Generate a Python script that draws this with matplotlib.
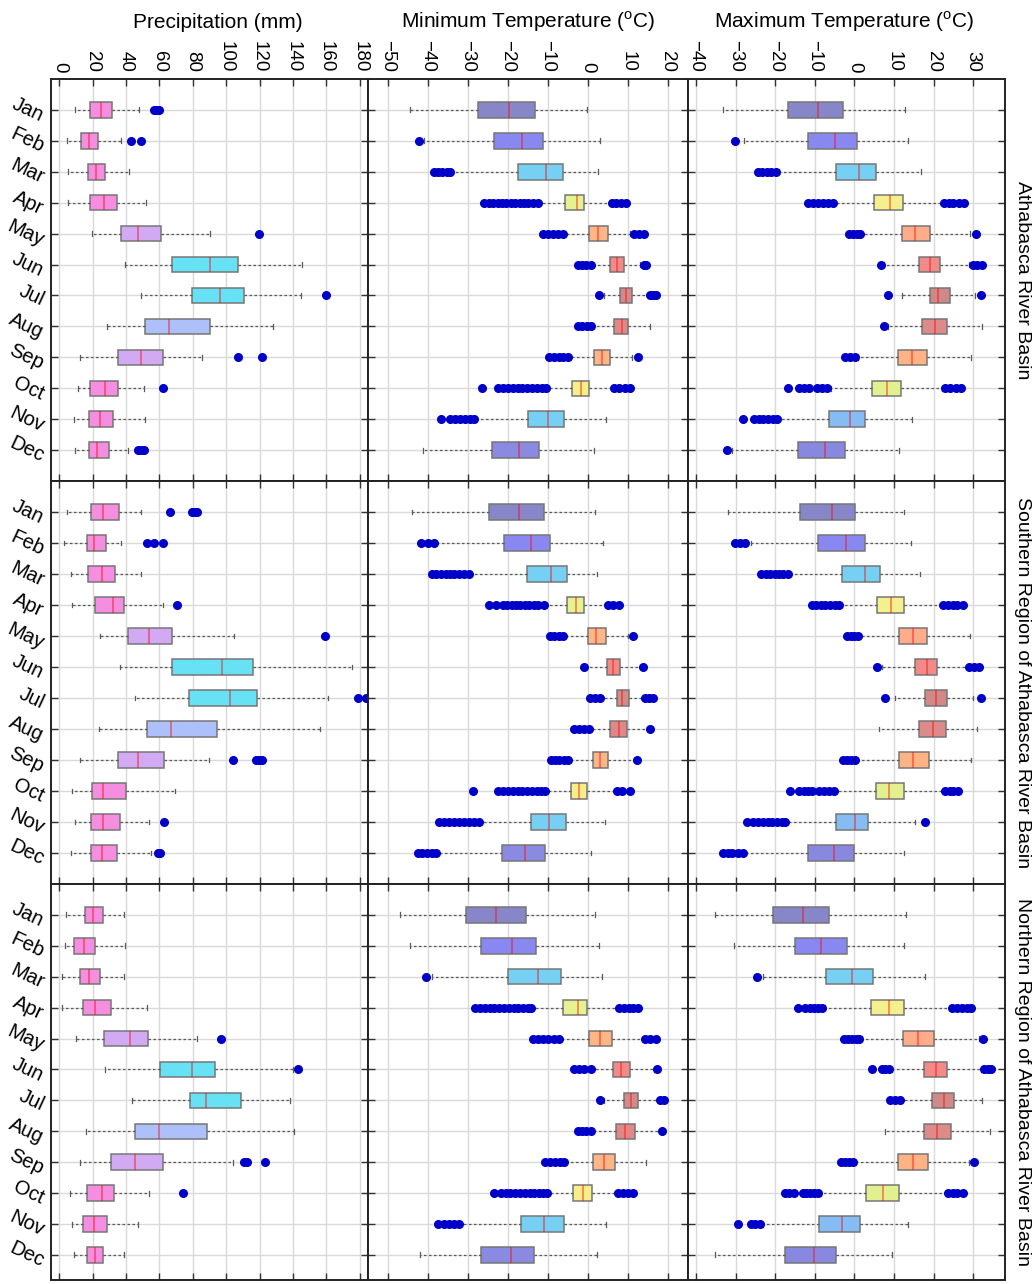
import matplotlib
matplotlib.use('Agg')
import matplotlib.pyplot as plt

plt.rcParams['font.family'] = ['Liberation Sans', 'DejaVu Sans']
plt.rcParams['mathtext.fontset'] = 'custom'
plt.rcParams['mathtext.rm'] = 'Liberation Sans'

months = ['Jan', 'Feb', 'Mar', 'Apr', 'May', 'Jun', 'Jul', 'Aug', 'Sep', 'Oct', 'Nov', 'Dec']
regions = ['Athabasca River Basin',
           'Southern Region of Athabasca River Basin',
           'Northern Region of Athabasca River Basin']
titles = ['Precipitation (mm)',
          r'Minimum Temperature ($^{\rm o}$C)',
          r'Maximum Temperature ($^{\rm o}$C)']

# each row: whisker low, q1, median, q3, whisker high
arb_prcp = [(9.4, 18.5, 24.9, 31.4, 47.8), (4.6, 12.9, 17.9, 23.3, 37.2), (5.4, 17.3, 21.9, 27.5, 41.8),
            (5.0, 18.5, 26.5, 34.4, 51.7), (19.3, 37.2, 47.2, 61.1, 90.5), (39.3, 67.5, 90.4, 106.9, 145.5),
            (48.8, 79.4, 96.3, 110.9, 145.0), (28.3, 51.1, 65.7, 90.4, 127.8), (12.6, 35.0, 48.8, 62.2, 85.3),
            (11.0, 18.5, 27.1, 35.4, 50.7), (8.6, 17.7, 24.4, 32.2, 51.1), (9.1, 17.7, 22.7, 29.7, 41.0)]
arb_prcp_out = [[56.5, 58.0, 59.5], [42.8, 48.8], [], [], [119.4], [], [159.7], [], [107.0, 121.5],
                [62.0], [], [47.0, 49.0, 51.0]]

arb_tmin = [(-44.4, -27.4, -19.75, -13.2, -0.3), (-40.9, -23.4, -16.5, -11.3, 3.0), (-34.0, -17.6, -10.5, -6.2, 2.4),
            (-12.3, -5.7, -2.75, -0.9, 5.5), (-6.0, 0.3, 2.4, 5.1, 10.5), (1.0, 5.6, 7.25, 8.9, 13.0),
            (4.0, 8.1, 9.4, 11.0, 15.0), (1.0, 6.4, 8.4, 10.0, 15.5), (-5.0, 1.5, 3.4, 5.6, 11.0),
            (-10.0, -4.1, -1.8, 0.3, 6.0), (-28.0, -15.0, -10.0, -5.9, 4.4), (-41.3, -24.0, -17.2, -12.2, 1.5)]
arb_tmin_out = [[], [-42.2], [-38.6, -37.5, -36.4, -35.3, -34.4],
                [-25.9, -24.8, -23.7, -22.6, -21.5, -20.4, -19.3, -18.2, -17.1, -16.0, -14.9, -13.8, -12.6,
                 5.9, 7.0, 8.2, 9.5],
                [-11.3, -10.0, -8.8, -7.5, -6.3, 11.6, 12.8, 14.1],
                [-2.6, -1.5, -0.4, 0.65, 14.0, 14.6],
                [2.8, 15.5, 16.3, 17.1],
                [-2.5, -1.4, -0.3, 0.65],
                [-9.7, -8.5, -7.3, -6.2, -5.1, 12.5],
                [-26.4, -22.4, -21.2, -20.0, -18.8, -17.6, -16.4, -15.2, -14.0, -12.8, -11.6, -10.4,
                 6.4, 7.8, 9.2, 10.5],
                [-36.7, -34.4, -33.2, -32.0, -30.8, -29.6, -28.5],
                []]

arb_tmax = [(-33.1, -16.8, -9.1, -2.9, 12.75), (-27.8, -11.7, -5.0, 0.7, 13.4), (-19.0, -4.75, 1.25, 5.4, 16.9),
            (-5.0, 5.0, 9.0, 12.2, 22.0), (2.0, 11.9, 15.25, 19.0, 29.25), (7.5, 16.25, 19.0, 21.7, 29.0),
            (12.1, 19.0, 21.2, 24.0, 30.5), (8.5, 17.0, 20.35, 23.3, 32.2), (1.0, 11.0, 14.6, 18.4, 29.4),
            (-6.0, 4.4, 8.2, 11.8, 22.0), (-19.0, -6.5, -1.0, 2.6, 14.6), (-31.0, -14.2, -7.5, -2.4, 11.25)]
arb_tmax_out = [[], [-30.2], [-24.3, -23.2, -22.1, -21.0, -19.9],
                [-11.7, -10.5, -9.2, -8.0, -6.7, -5.4, 22.6, 23.8, 25.0, 26.3, 27.75],
                [-1.4, -0.4, 0.6, 1.5, 30.7],
                [6.7, 29.9, 31.0, 32.2],
                [8.5, 31.9],
                [7.35],
                [-2.4, -1.2, 0.25],
                [-16.7, -14.0, -12.8, -11.5, -9.5, -8.2, -6.8, 22.8, 24.2, 25.6, 27.0],
                [-28.0, -25.4, -24.2, -23.0, -21.8, -20.6, -19.5],
                [-32.25]]

sr_prcp = [(4.6, 18.7, 26.1, 35.6, 49.0), (2.8, 16.3, 20.7, 28.1, 37.0), (7.2, 17.1, 25.7, 33.6, 49.0),
           (7.8, 21.1, 32.2, 38.6, 62.3), (24.1, 41.0, 53.9, 67.5, 104.7), (36.4, 67.3, 97.7, 116.0, 175.3),
           (45.6, 77.8, 102.3, 118.2, 161.0), (23.5, 52.3, 66.9, 94.3, 156.4), (12.6, 35.4, 47.2, 62.5, 89.7),
           (7.8, 19.6, 26.3, 40.1, 69.6), (9.4, 18.9, 25.9, 36.6, 53.9), (7.1, 18.9, 25.5, 34.6, 55.0)]
sr_prcp_out = [[66.5, 79.8, 81.3, 82.8], [52.3, 56.9, 62.3], [], [70.4], [159.0], [], [178.9, 183.7], [],
               [103.8, 117.6, 119.5, 121.5], [], [62.5], [59.0, 60.2]]

sr_tmin = [(-44.1, -24.8, -17.2, -11.0, 1.7), (-38.0, -21.1, -14.25, -9.5, 3.8), (-29.5, -15.3, -9.25, -5.3, 2.2),
           (-11.0, -5.3, -3.0, -0.9, 4.5), (-6.0, -0.1, 2.0, 4.5, 10.0), (-0.5, 4.7, 6.3, 8.1, 13.0),
           (3.5, 7.2, 8.5, 10.2, 14.0), (0.5, 5.6, 7.7, 9.7, 15.0), (-5.0, 1.15, 3.1, 5.1, 11.5),
           (-10.5, -4.3, -2.15, -0.2, 6.5), (-27.0, -14.2, -9.7, -5.45, 4.3), (-38.0, -21.6, -15.8, -10.7, 0.8)]
sr_tmin_out = [[], [-41.75, -40.1, -38.4],
               [-39.0, -37.9, -36.8, -35.6, -34.5, -33.4, -32.2, -31.0, -29.7],
               [-24.7, -23.0, -21.3, -20.2, -19.1, -18.0, -16.9, -15.8, -14.7, -13.6, -12.4, -11.1,
                4.9, 6.3, 7.8],
               [-9.5, -8.4, -7.3, -6.2, 11.3],
               [-1.1, 13.8],
               [0.6, 1.8, 3.0, 14.25, 15.2, 16.2],
               [-3.4, -2.2, -1.0, 0.3, 15.6],
               [-9.25, -8.2, -7.2, -6.1, -5.1, 12.2],
               [-28.8, -22.4, -21.2, -20.0, -18.8, -17.6, -16.4, -15.2, -14.0, -12.8, -11.7, -10.7,
                7.25, 8.5, 10.5],
               [-37.2, -36.0, -34.8, -33.6, -32.3, -31.0, -29.7, -28.4, -27.2],
               [-42.5, -41.4, -40.2, -39.1, -38.0]]

sr_tmax = [(-31.8, -13.75, -5.75, 0.1, 12.6), (-26.0, -9.3, -2.1, 2.75, 14.25), (-16.5, -3.1, 2.75, 6.5, 16.6),
           (-3.5, 5.7, 9.2, 12.6, 22.0), (1.2, 11.25, 14.8, 18.4, 29.25), (6.9, 15.25, 18.2, 20.9, 28.5),
           (10.25, 17.9, 20.5, 23.4, 30.0), (6.3, 16.3, 19.8, 23.0, 30.9), (0.5, 11.3, 14.9, 18.7, 29.4),
           (-5.0, 5.5, 8.8, 12.4, 22.5), (-17.0, -4.7, 0.25, 3.5, 15.4), (-28.0, -11.75, -5.2, -0.2, 12.6)]
sr_tmax_out = [[], [-30.2, -28.9, -27.7],
               [-23.5, -22.4, -21.3, -20.1, -19.0, -17.9, -16.8],
               [-10.75, -9.6, -8.5, -7.3, -6.1, -5.0, -3.9, 22.3, 23.5, 24.8, 26.0, 27.3],
               [-1.8, -0.9, 0.0, 0.9],
               [5.7, 29.0, 30.2, 31.5],
               [7.6, 31.9],
               [],
               [-3.0, -1.9, -0.8, 0.25],
               [-16.2, -13.9, -12.8, -11.7, -10.6, -8.95, -7.7, -6.4, -5.2, 22.8, 24.0, 25.0, 26.1],
               [-27.0, -25.5, -24.3, -23.1, -21.9, -20.7, -19.5, -18.3, -17.5, 17.9],
               [-33.2, -32.0, -30.8, -29.5, -28.2]]

nr_prcp = [(3.9, 15.3, 20.4, 25.9, 38.9), (3.1, 9.0, 14.9, 21.6, 39.3), (1.6, 12.2, 17.7, 24.4, 38.5),
           (1.8, 14.1, 21.3, 30.8, 52.3), (9.8, 26.5, 42.4, 52.9, 82.8), (27.5, 60.5, 79.8, 93.3, 140.1),
           (43.6, 78.4, 87.8, 108.7, 138.1), (16.1, 45.4, 59.9, 88.8, 140.5), (12.1, 31.0, 45.6, 61.9, 104.1),
           (6.2, 16.5, 25.7, 32.6, 53.5), (7.4, 14.1, 20.7, 28.7, 47.4), (8.8, 16.3, 21.1, 26.1, 38.6)]
nr_prcp_out = [[], [], [], [], [96.7], [143.1], [], [], [110.6, 112.6, 123.2], [74.4], [], []]

nr_tmin = [(-47.1, -30.6, -22.9, -15.6, 1.8), (-44.5, -26.7, -19.1, -13.0, 2.8), (-39.0, -20.1, -12.5, -6.75, 3.45),
           (-14.0, -6.3, -2.6, -0.3, 7.5), (-7.0, 0.3, 3.1, 6.0, 14.0), (1.0, 6.3, 8.25, 10.5, 16.5),
           (4.0, 9.0, 10.75, 12.6, 17.5), (1.0, 7.0, 9.3, 11.75, 18.0), (-5.5, 1.3, 4.1, 6.75, 14.5),
           (-10.0, -3.8, -1.3, 1.0, 7.0), (-32.0, -16.75, -10.9, -6.1, 4.5), (-41.9, -26.75, -19.25, -13.4, 2.25)]
nr_tmin_out = [[], [], [-40.4],
               [-28.2, -27.0, -25.8, -24.6, -23.4, -22.2, -21.0, -19.8, -18.6, -17.4, -16.2, -15.1, -14.25,
                7.8, 9.0, 10.2, 11.3, 12.4],
               [-13.8, -12.6, -11.3, -10.0, -8.6, -7.2, 14.3, 15.6, 17.0],
               [-3.4, -2.2, -1.0, 0.75, 17.2],
               [3.1, 18.0, 19.0],
               [-2.6, -1.5, -0.4, 0.75, 18.4],
               [-10.7, -9.5, -8.3, -7.1, -5.9],
               [-23.4, -21.75, -20.6, -19.4, -18.2, -17.0, -15.8, -14.6, -13.4, -12.2, -11.2, -10.3,
                7.4, 8.7, 10.0, 11.2],
               [-37.4, -36.1, -34.8, -33.5, -32.2],
               []]

nr_tmax = [(-35.1, -20.5, -12.9, -6.3, 12.9), (-30.4, -15.0, -8.45, -1.9, 12.45), (-23.0, -7.15, -0.7, 4.7, 17.9),
           (-7.5, 4.2, 8.6, 12.5, 24.0), (2.0, 12.2, 16.1, 20.0, 31.5), (9.5, 17.5, 20.7, 23.4, 32.0),
           (12.0, 19.7, 22.6, 25.25, 32.3), (7.75, 17.6, 20.9, 24.4, 34.2), (0.5, 10.9, 14.7, 18.6, 29.0),
           (-8.5, 2.9, 7.1, 11.3, 23.0), (-23.0, -8.9, -3.25, 1.3, 13.6), (-35.3, -17.4, -10.2, -4.75, 9.6)]
nr_tmax_out = [[], [], [-24.6],
               [-14.3, -12.5, -11.3, -10.2, -9.1, -8.1, 24.7, 25.9, 27.1, 28.3, 29.4],
               [-2.7, -1.7, -0.7, 0.3, 1.25, 32.5],
               [4.4, 6.9, 7.8, 8.6, 32.75, 33.6, 34.4],
               [9.0, 10.2, 11.5],
               [],
               [-3.5, -2.4, -1.3, -0.3, 30.25],
               [-17.5, -16.4, -15.2, -13.1, -12.1, -11.1, -10.1, -9.3, 23.6, 24.8, 26.0, 27.3],
               [-29.5, -26.2, -25.0, -23.9],
               []]

# box colours by month for each variable
prcp_colors = ['#f58de0', '#f58de0', '#f58de0', '#f58de0', '#d2aaf4', '#66e2f4',
               '#66e2f4', '#aec0fa', '#d2aaf4', '#f58de0', '#f58de0', '#f58de0']
tmin_colors = ['#8686c8', '#8888f0', '#76d0f4', '#e6f290', '#ffb686', '#f28a8a',
               '#d28a8a', '#e08888', '#ffb686', '#f6ee88', '#76d0f4', '#8a8ae2']
tmax_colors = ['#8686c8', '#8888f0', '#76d0f4', '#f4f08e', '#ffac8a', '#f28a8a',
               '#d08888', '#dc8a8a', '#ffb284', '#e2f090', '#86bcf4', '#8888e0']

panels = [[(arb_prcp, arb_prcp_out), (arb_tmin, arb_tmin_out), (arb_tmax, arb_tmax_out)],
          [(sr_prcp, sr_prcp_out), (sr_tmin, sr_tmin_out), (sr_tmax, sr_tmax_out)],
          [(nr_prcp, nr_prcp_out), (nr_tmin, nr_tmin_out), (nr_tmax, nr_tmax_out)]]
col_colors = [prcp_colors, tmin_colors, tmax_colors]
col_xlim = [(-5, 185), (-55, 25), (-42, 38)]
col_ticks = [range(0, 181, 20), range(-50, 21, 10), range(-40, 31, 10)]

W, H = 1033, 1284
col_px = [51, 368, 688, 1005]
row_px = [79, 481, 884, 1280]
row_ylim = [13, 13, 12.81]
title_px = [218, 528, 844]

fig = plt.figure(figsize=(W / 100, H / 100), dpi=100)

for r in range(3):
    for c in range(3):
        x0, x1 = col_px[c], col_px[c + 1]
        y0, y1 = row_px[r], row_px[r + 1]
        ax = fig.add_axes([x0 / W, 1 - y1 / H, (x1 - x0) / W, (y1 - y0) / H])
        rows, outs = panels[r][c]
        stats = [dict(whislo=v[0], q1=v[1], med=v[2], q3=v[3], whishi=v[4], fliers=o)
                 for v, o in zip(rows, outs)]
        bp = ax.bxp(stats, positions=range(1, 13), widths=0.5, orientation='horizontal',
                    patch_artist=True, capwidths=0.16,
                    boxprops=dict(edgecolor='#767676', linewidth=1.1),
                    medianprops=dict(color='red', alpha=0.45, linewidth=1.3),
                    whiskerprops=dict(color='#5a5a5a', linestyle=(0, (2, 2)), linewidth=0.9),
                    capprops=dict(color='#5a5a5a', linewidth=0.9),
                    flierprops=dict(marker='o', markerfacecolor='#0000c8', markeredgecolor='#0000c8',
                                    markersize=5.5, linestyle='none'))
        for patch, col in zip(bp['boxes'], col_colors[c]):
            patch.set_facecolor(col)

        ax.set_xlim(*col_xlim[c])
        ax.set_ylim(row_ylim[r], 0)
        ax.set_xticks(list(col_ticks[c]))
        ax.set_yticks(range(1, 13))
        ax.grid(True, color='#d9d9d9', linewidth=1.0)
        ax.set_axisbelow(True)
        for s in ax.spines.values():
            s.set_linewidth(1.4)
            s.set_color('#222222')
        ax.tick_params(direction='in', top=True, bottom=True, left=True, right=True,
                       length=5, width=1.0, color='#333333', labelsize=13.5,
                       labelbottom=False, labeltop=(r == 0), labelleft=(c == 0))
        ax.tick_params(axis='x', pad=5, labelrotation=-90)
        if c == 0:
            ax.set_yticklabels(months, rotation=-25, ha='right', va='center', fontsize=14.5)
            ax.tick_params(axis='y', pad=3)
        else:
            ax.set_yticklabels([])
        if r == 0:
            fig.text(title_px[c] / W, 1 - 22 / H, titles[c], fontsize=15,
                     ha='center', va='center')
    fig.text(1022 / W, 1 - (row_px[r] + row_px[r + 1]) / 2 / H, regions[r], fontsize=14,
             rotation=-90, ha='center', va='center')

fig.savefig('out.png', dpi=100)
